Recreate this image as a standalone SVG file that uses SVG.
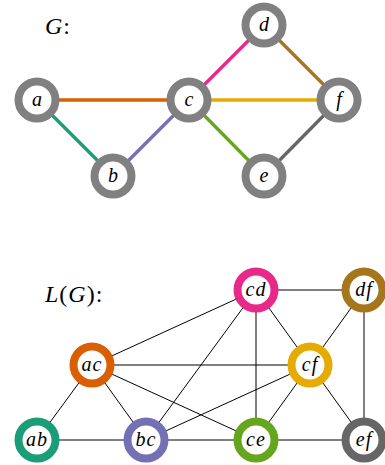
<svg xmlns="http://www.w3.org/2000/svg" width="385" height="465" viewBox="0 0 385 465">
<style>
.n circle{fill:#fff;stroke-width:8}
.g circle{stroke:#808080}
text{font-family:"Liberation Serif","DejaVu Serif",serif;font-style:italic;font-size:20px;text-anchor:middle;fill:#000}
.w{letter-spacing:1px}
.t{font-size:24px;text-anchor:start;letter-spacing:1px}
.e1 line{stroke-width:3.3}
.e2 line{stroke:#000;stroke-width:1}
</style>
<rect width="385" height="465" fill="#fff"/>
<text class="t" x="45" y="34">G<tspan font-style="normal">:</tspan></text>
<text class="t" x="45" y="302">L<tspan font-style="normal">(</tspan>G<tspan font-style="normal">):</tspan></text>
<g id="edges-G" class="e1">
<line x1="37" y1="100" x2="189" y2="100" stroke="#d95f02"/>
<line x1="37" y1="100" x2="113" y2="176" stroke="#1b9e77"/>
<line x1="113" y1="176" x2="189" y2="100" stroke="#7570b3"/>
<line x1="189" y1="100" x2="264" y2="25" stroke="#e7298a"/>
<line x1="189" y1="100" x2="339" y2="100" stroke="#e6ab02"/>
<line x1="189" y1="100" x2="264" y2="176" stroke="#66a61e"/>
<line x1="264" y1="25" x2="339" y2="100" stroke="#a6761d"/>
<line x1="264" y1="176" x2="339" y2="100" stroke="#666666"/>
</g>
<g id="edges-LG" class="e2">
<line x1="256" y1="290" x2="364" y2="290"/>
<line x1="256" y1="290" x2="92" y2="365"/>
<line x1="256" y1="290" x2="146" y2="440"/>
<line x1="256" y1="290" x2="256" y2="440"/>
<line x1="256" y1="290" x2="310" y2="365"/>
<line x1="364" y1="290" x2="310" y2="365"/>
<line x1="364" y1="290" x2="364" y2="440"/>
<line x1="92" y1="365" x2="310" y2="365"/>
<line x1="92" y1="365" x2="37" y2="440"/>
<line x1="92" y1="365" x2="146" y2="440"/>
<line x1="92" y1="365" x2="256" y2="440"/>
<line x1="310" y1="365" x2="146" y2="440"/>
<line x1="310" y1="365" x2="256" y2="440"/>
<line x1="310" y1="365" x2="364" y2="440"/>
<line x1="37" y1="440" x2="364" y2="440"/>
</g>
<g id="a" class="n g"><circle cx="37" cy="100" r="18.5"/><text x="37" y="106">a</text></g>
<g id="b" class="n g"><circle cx="113" cy="176" r="18.5"/><text x="113" y="182">b</text></g>
<g id="c" class="n g"><circle cx="189" cy="100" r="18.5"/><text x="189" y="106">c</text></g>
<g id="d" class="n g"><circle cx="264" cy="25" r="18.5"/><text x="264" y="31">d</text></g>
<g id="e" class="n g"><circle cx="264" cy="176" r="18.5"/><text x="264" y="182">e</text></g>
<g id="f" class="n g"><circle cx="339" cy="100" r="18.5"/><text x="339" y="106">f</text></g>
<g id="cd" class="n"><circle cx="256" cy="290" r="18.5" stroke="#e7298a"/><text class="w" x="256" y="296">cd</text></g>
<g id="df" class="n"><circle cx="364" cy="290" r="18.5" stroke="#a6761d"/><text class="w" x="364" y="296">df</text></g>
<g id="ac" class="n"><circle cx="92" cy="365" r="18.5" stroke="#d95f02"/><text class="w" x="92" y="371">ac</text></g>
<g id="cf" class="n"><circle cx="310" cy="365" r="18.5" stroke="#e6ab02"/><text class="w" x="310" y="371">cf</text></g>
<g id="ab" class="n"><circle cx="37" cy="440" r="18.5" stroke="#1b9e77"/><text class="w" x="37" y="446">ab</text></g>
<g id="bc" class="n"><circle cx="146" cy="440" r="18.5" stroke="#7570b3"/><text class="w" x="146" y="446">bc</text></g>
<g id="ce" class="n"><circle cx="256" cy="440" r="18.5" stroke="#66a61e"/><text class="w" x="256" y="446">ce</text></g>
<g id="ef" class="n"><circle cx="364" cy="440" r="18.5" stroke="#666666"/><text class="w" x="364" y="446">ef</text></g>
</svg>
